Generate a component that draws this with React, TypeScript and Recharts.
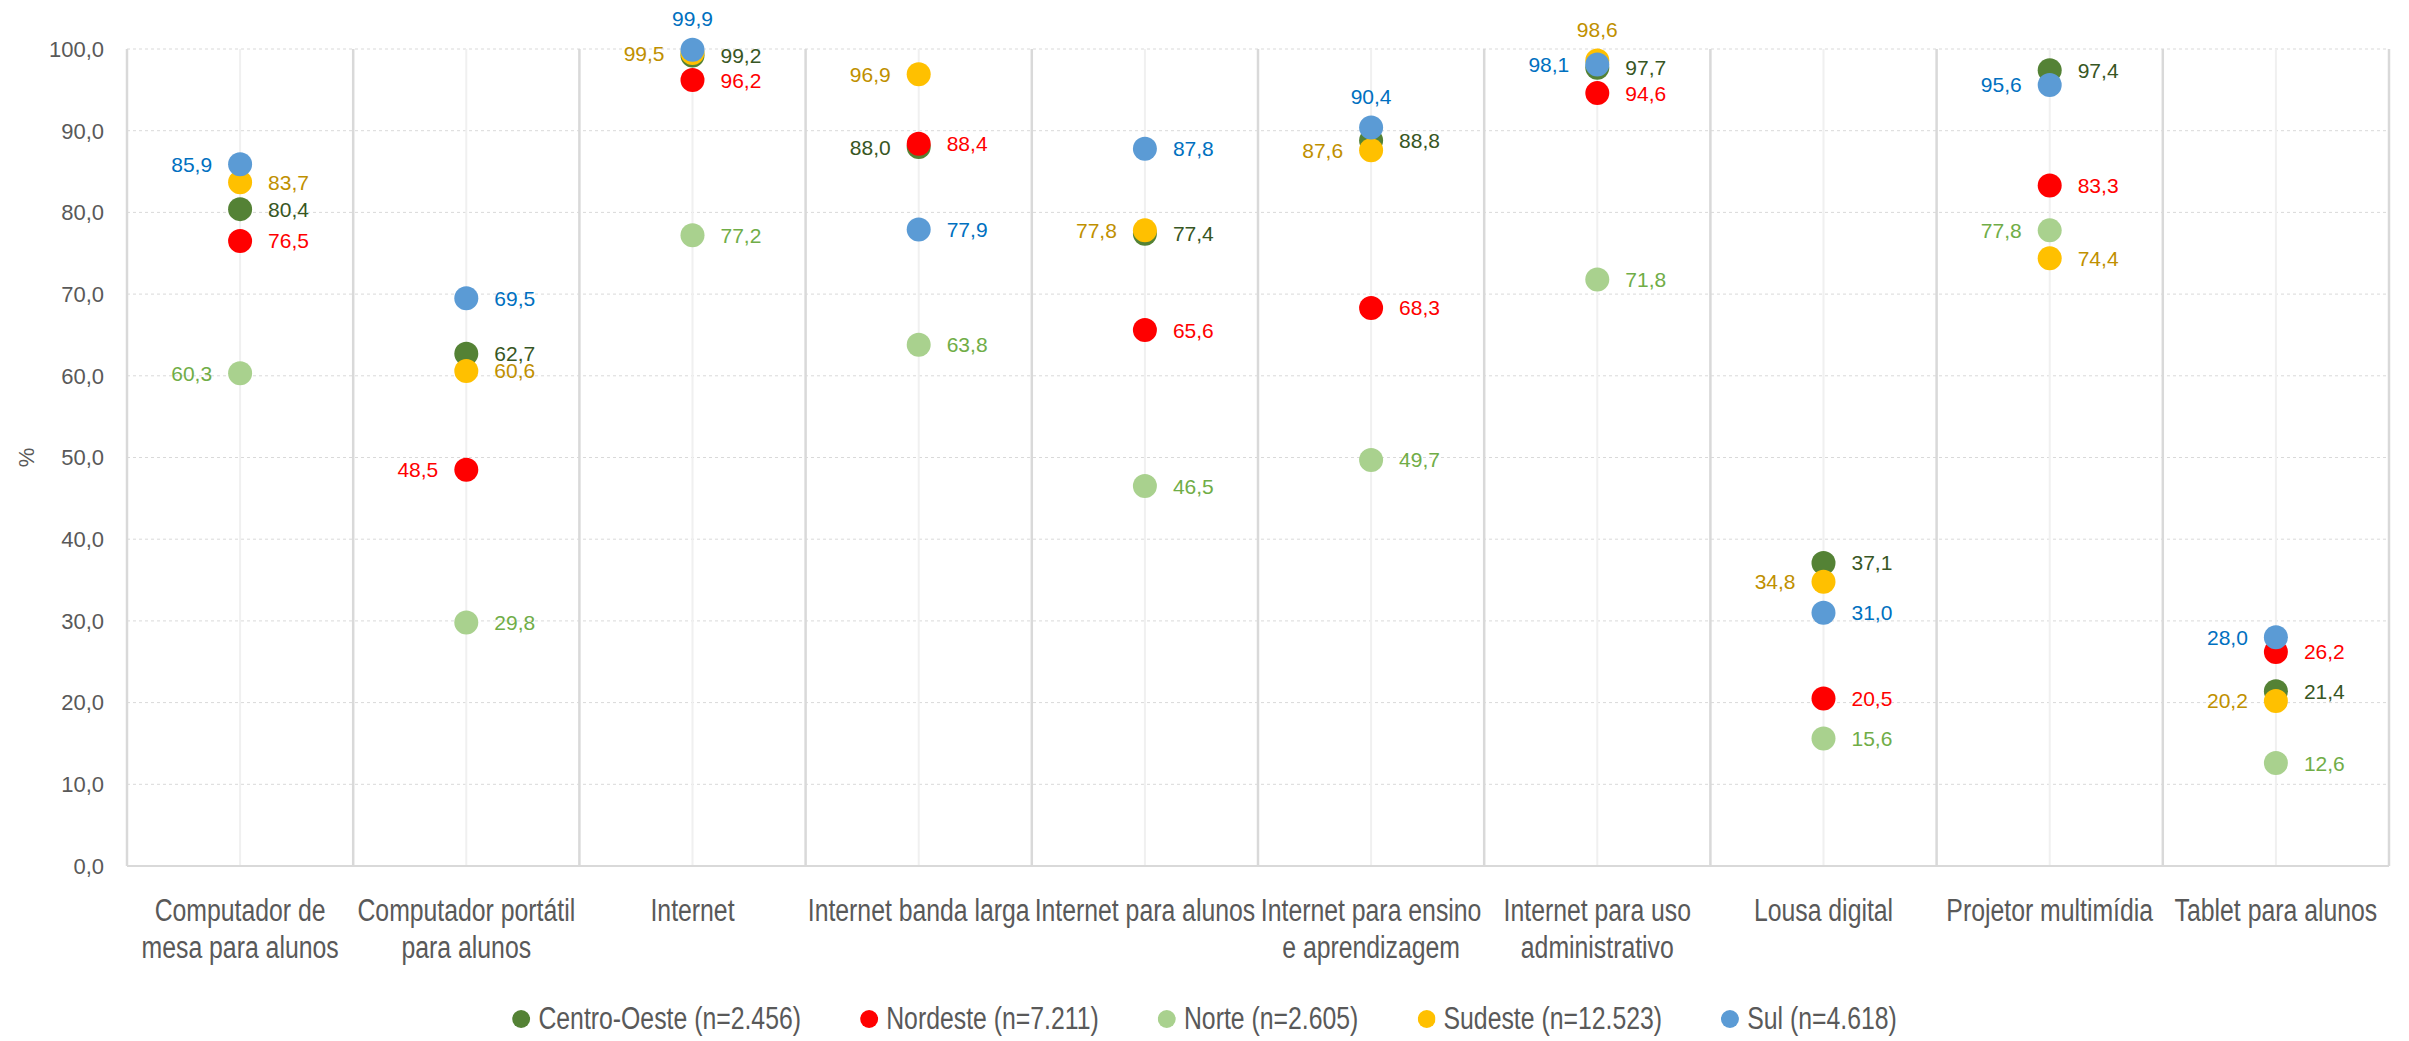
import { ScatterChart, Scatter, XAxis, YAxis, CartesianGrid, ReferenceLine, Legend, Label } from 'recharts';

const categories = [
  'Computador de\nmesa para alunos',
  'Computador portátil\npara alunos',
  'Internet',
  'Internet banda larga',
  'Internet para alunos',
  'Internet para ensino\ne aprendizagem',
  'Internet para uso\nadministrativo',
  'Lousa digital',
  'Projetor multimídia',
  'Tablet para alunos',
];

const centroOeste = [80.4, 62.7, 99.2, 88.0, 77.4, 88.8, 97.7, 37.1, 97.4, 21.4];
const nordeste = [76.5, 48.5, 96.2, 88.4, 65.6, 68.3, 94.6, 20.5, 83.3, 26.2];
const norte = [60.3, 29.8, 77.2, 63.8, 46.5, 49.7, 71.8, 15.6, 77.8, 12.6];
const sudeste = [83.7, 60.6, 99.5, 96.9, 77.8, 87.6, 98.6, 34.8, 74.4, 20.2];
const sul = [85.9, 69.5, 99.9, 77.9, 87.8, 90.4, 98.1, 31.0, 95.6, 28.0];

const yTicks = [0, 10, 20, 30, 40, 50, 60, 70, 80, 90, 100];

// where each data label sits relative to its dot: r = right, l = left, t = top
const coSides = ['r', 'r', 'r', 'l', 'r', 'r', 'r', 'r', 'r', 'r'];
const neSides = ['r', 'l', 'r', 'r', 'r', 'r', 'r', 'r', 'r', 'r'];
const noSides = ['l', 'r', 'r', 'r', 'r', 'r', 'r', 'r', 'l', 'r'];
const seSides = ['r', 'r', 'l', 'l', 'l', 'l', 't', 'l', 'r', 'l'];
const suSides = ['l', 'r', 't', 'r', 'r', 't', 'l', 'r', 'l', 'l'];

const series = [
  { name: 'Centro-Oeste (n=2.456)', values: centroOeste, sides: coSides, dot: '#548235', text: '#375623' },
  { name: 'Nordeste (n=7.211)', values: nordeste, sides: neSides, dot: '#FF0000', text: '#FF0000' },
  { name: 'Norte (n=2.605)', values: norte, sides: noSides, dot: '#A9D18E', text: '#70AD47' },
  { name: 'Sudeste (n=12.523)', values: sudeste, sides: seSides, dot: '#FFC000', text: '#BF9000' },
  { name: 'Sul (n=4.618)', values: sul, sides: suSides, dot: '#5B9BD5', text: '#0070C0' },
];

const plain = "'Liberation Sans', Arial, sans-serif";
const squeeze = 0.8; // no narrow font installed, so Liberation Sans is squeezed horizontally
const W = 2409;
const fmt = (v: number) => v.toFixed(1).replace('.', ',');

const XTick = ({ x, y, payload }: any) => {
  const lines = categories[Math.round(payload.value - 0.5)].split('\n');
  return (
    <text
      transform={`translate(${x},${y}) scale(${squeeze},1)`}
      textAnchor="middle"
      fill="#595959"
      fontSize={31}
      fontFamily={plain}
    >
      {lines.map((l, i) => (
        <tspan key={i} x={0} dy={i === 0 ? 55 : 37}>{l}</tspan>
      ))}
    </text>
  );
};

const makeShape = (dot: string, color: string) => (props: any) => {
  const { cx, cy, payload } = props;
  const side = payload.side;
  let tx = cx + 28;
  let ty = cy;
  let anchor = 'start';
  if (side === 'l') { tx = cx - 28; anchor = 'end'; }
  if (side === 't') { tx = cx; ty = cy - 31; anchor = 'middle'; }
  return (
    <g>
      <circle cx={cx} cy={cy} r={12} fill={dot} />
      <text x={tx} y={ty} textAnchor={anchor} dominantBaseline="central" fill={color} fontSize={21} fontFamily={plain}>
        {fmt(payload.y)}
      </text>
    </g>
  );
};

const LegendContent = () => (
  <div style={{ width: W, height: 40, overflow: 'visible' }}>
    <div
      style={{
        width: W / squeeze,
        marginLeft: (W - W / squeeze) / 2,
        transform: `scaleX(${squeeze})`,
        transformOrigin: 'center',
        display: 'flex',
        justifyContent: 'center',
        alignItems: 'center',
        height: 40,
        fontFamily: plain,
        fontSize: 31,
        color: '#595959',
      }}
    >
      {series.map((s) => (
        <div key={s.name} style={{ display: 'flex', alignItems: 'center', margin: '0 37px' }}>
          <svg width={9 * 2 / squeeze} height={18} style={{ marginRight: 10 }}>
            <ellipse cx={9 / squeeze} cy={9} rx={9 / squeeze} ry={9} fill={s.dot} />
          </svg>
          <span>{s.name}</span>
        </div>
      ))}
    </div>
  </div>
);

export default function App() {
  const separators = [...categories.map((_, i) => i), categories.length];
  const centers = categories.map((_, i) => i + 0.5);
  return (
    <div style={{ position: 'absolute', left: 0, top: 0, background: '#fff' }}>
      <ScatterChart width={W} height={1041} margin={{ top: 49, right: 20, bottom: 2, left: 0 }}>
        <CartesianGrid vertical={false} stroke="#d9d9d9" strokeDasharray="3 3" />
        <XAxis
          type="number"
          dataKey="x"
          domain={[0, categories.length]}
          ticks={centers}
          tick={<XTick />}
          tickLine={false}
          tickSize={0}
          tickMargin={0}
          height={133}
          axisLine={{ stroke: '#d9d9d9', strokeWidth: 2 }}
        />
        <YAxis
          type="number"
          dataKey="y"
          domain={[0, 100]}
          ticks={yTicks}
          width={127}
          axisLine={false}
          tickLine={false}
          tickSize={0}
          tickMargin={23}
          tickFormatter={fmt}
          tick={{ fill: '#595959', fontSize: 22, fontFamily: plain }}
        >
          <Label
            content={({ viewBox }: any) => (
              <text
                x={26}
                y={viewBox.y + viewBox.height / 2}
                transform={`rotate(-90, 26, ${viewBox.y + viewBox.height / 2})`}
                textAnchor="middle"
                dominantBaseline="central"
                fill="#595959"
                fontSize={22}
                fontFamily={plain}
              >
                %
              </text>
            )}
          />
        </YAxis>
        {centers.map((c) => (
          <ReferenceLine key={'c' + c} x={c} stroke="#f0f0f0" strokeWidth={2} />
        ))}
        {separators.map((s) => (
          <ReferenceLine key={'s' + s} x={s} stroke="#d9d9d9" strokeWidth={2.5} />
        ))}
        <Legend verticalAlign="bottom" content={<LegendContent />} wrapperStyle={{ left: 0, width: W }} />
        {series.map((s) => (
          <Scatter
            key={s.name}
            name={s.name}
            data={categories.map((_, i) => ({ x: i + 0.5, y: s.values[i], side: s.sides[i] }))}
            fill={s.dot}
            shape={makeShape(s.dot, s.text)}
            isAnimationActive={false}
          />
        ))}
      </ScatterChart>
    </div>
  );
}
